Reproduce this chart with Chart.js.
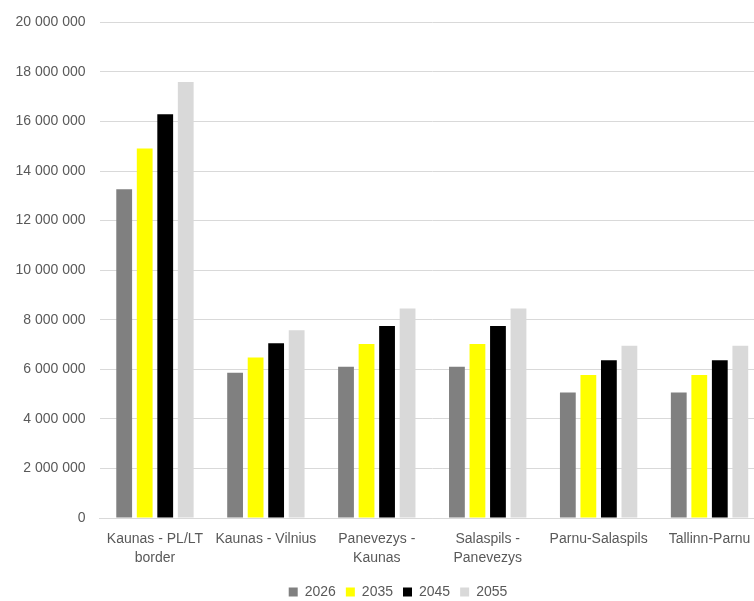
<!DOCTYPE html>
<html>
<head>
<meta charset="utf-8">
<script src="https://cdn.jsdelivr.net/npm/chart.js@4/dist/chart.umd.min.js"></script>
<style>
  html, body { margin: 0; padding: 0; background: #fff; overflow: hidden; }
  #wrap { width: 796px; height: 601px; }
</style>
</head>
<body>
<div id="wrap"><canvas id="grafico" width="796" height="601"></canvas></div>
<script>
// tramos
var tramos = [
    ['Kaunas - PL/LT', 'border'],
    'Kaunas - Vilnius',
    ['Panevezys -', 'Kaunas'],
    ['Salaspils -', 'Panevezys'],
    'Parnu-Salaspils',
    'Tallinn-Parnu'
];
var anios = ['2026', '2035', '2045', '2055'];

var v2026 = [13270000, 5860000, 6100000, 6100000, 5060000, 5060000];
var v2035 = [14910000, 6480000, 7020000, 7020000, 5770000, 5770000];
var v2045 = [16290000, 7050000, 7750000, 7750000, 6370000, 6370000];
var v2055 = [17590000, 7580000, 8450000, 8450000, 6950000, 6950000];

var color = ['#808080', '#FFFF00', '#000000', '#D9D9D9'];
var fuente = "'Liberation Sans', Arial, sans-serif";

function miles(n) {
    return n.toString().replace(/\B(?=(\d{3})+(?!\d))/g, ' ');
}

var series = [v2026, v2035, v2045, v2055];
var datasets = [];
for (var i = 0; i < series.length; i++) {
    datasets.push({
        label: anios[i],
        data: series[i],
        backgroundColor: color[i],
        borderWidth: 0,
        yAxisID: 'y',
        categoryPercentage: 0.74,
        barPercentage: 0.77
    });
}

var grafico = new Chart(document.getElementById('grafico'), {
    type: 'bar',
    data: { labels: tramos, datasets: datasets },
    options: {
        responsive: false,
        animation: false,
        layout: { padding: { top: 9, right: 0, left: 0, bottom: -8 } },
        scales: {
            x: {
                grid: { display: false, drawTicks: false },
                border: { display: true, color: '#D9D9D9' },
                ticks: {
                    color: '#595959',
                    font: { family: fuente, size: 14, lineHeight: 1.35 },
                    padding: 12,
                    maxRotation: 0,
                    autoSkip: false
                },
                afterFit: function(scale) { scale.height = 57; }
            },
            y: {
                min: 0,
                max: 20000000,
                grid: { color: '#D9D9D9', drawTicks: false },
                border: { display: false },
                ticks: {
                    stepSize: 2000000,
                    color: '#595959',
                    font: { family: fuente, size: 14 },
                    padding: 14,
                    callback: function(v) { return miles(v); }
                },
                afterFit: function(scale) { scale.width = 99.5; }
            },
            // eje vacio a la derecha (el grafico original queda cortado)
            y2: {
                position: 'right',
                grid: { display: false },
                border: { display: false },
                ticks: { display: false },
                afterFit: function(scale) { scale.width = 31; }
            }
        },
        plugins: {
            legend: {
                position: 'bottom',
                labels: {
                    boxWidth: 9,
                    boxHeight: 9,
                    padding: 10,
                    color: '#595959',
                    font: { family: fuente, size: 14 }
                }
            },
            tooltip: { enabled: false }
        }
    }
});
</script>
</body>
</html>
